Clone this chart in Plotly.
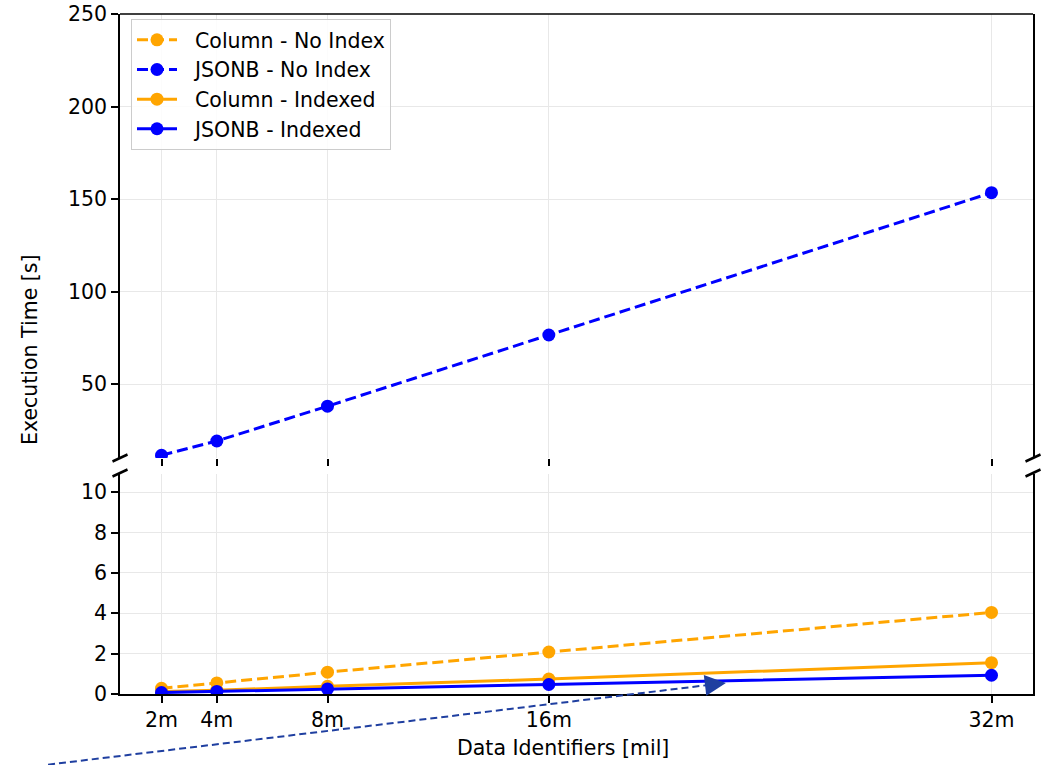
import plotly.graph_objects as go

# ---- data ----
x_vals = [2, 4, 8, 16, 32]
x_labels = ["2m", "4m", "8m", "16m", "32m"]
col_noidx = [0.28, 0.55, 1.08, 2.08, 4.04]
jsonb_noidx = [11.5, 19.2, 38.0, 76.5, 153.4]
col_idx = [0.12, 0.19, 0.38, 0.74, 1.55]
jsonb_idx = [0.07, 0.13, 0.25, 0.47, 0.93]
series_names = ["Column - No Index", "JSONB - No Index", "Column - Indexed", "JSONB - Indexed"]
top_ticks = [50, 100, 150, 200, 250]
bottom_ticks = [0, 2, 4, 6, 8, 10]
arrow_tail = (-2.1, -3.5)   # data coords of bottom panel
arrow_head = (22.4, 0.55)

# ---- style/layout ----
ORANGE = "#FFA500"
BLUE = "#0000FF"
ARROW_C = "#1f3fa0"
FONT = "DejaVu Sans"
FS = 20.5
W, H = 1045, 765
ML, MR, MT, MB = 120, 12, 14, 71
PW, PH = W - ML - MR, H - MT - MB
XR = [0.5, 33.5]
BOT_R = [0, 10.9]
TOP_R = [10, 250]
bot_dom = [0, (694 - 474) / PH]
top_dom = [(694 - 458) / PH, 1]

def py_to_paper(py):
    return (H - MB - py) / PH

def px_to_paper(px):
    return (px - ML) / PW

fig = go.Figure()
specs = [
    (col_noidx, ORANGE, "dash"),
    (jsonb_noidx, BLUE, "dash"),
    (col_idx, ORANGE, "solid"),
    (jsonb_idx, BLUE, "solid"),
]
for i, (vals, c, d) in enumerate(specs):
    for xa, ya, show in [("x", "y", False), ("x2", "y2", True)]:
        fig.add_trace(go.Scatter(
            x=x_vals, y=vals, mode="lines+markers", name="\u00a0\u00a0" + series_names[i],
            legendgroup=series_names[i], showlegend=show,
            line=dict(color=c, width=3, dash=("11px,5px" if d == "dash" else "solid")),
            marker=dict(color=c, size=13),
            xaxis=xa, yaxis=ya, cliponaxis=True,
        ))

grid = "#e8e8e8"
common_x = dict(range=XR, tickvals=x_vals, showgrid=True, gridcolor=grid, gridwidth=1,
                zeroline=False, ticks="outside", ticklen=7, tickwidth=1.5, tickcolor="black")
fig.update_layout(
    width=W, height=H, paper_bgcolor="white", plot_bgcolor="white",
    margin=dict(l=ML, r=MR, t=MT, b=MB, autoexpand=False),
    font=dict(family=FONT, size=FS, color="black"),
    xaxis=dict(**common_x, ticktext=x_labels, showticklabels=True, anchor="y",
               showline=True, linecolor="black", linewidth=1.5),
    xaxis2=dict(**common_x, showticklabels=False, anchor="y2", matches="x", showline=False),
    yaxis=dict(domain=bot_dom, range=BOT_R, tickvals=bottom_ticks, showgrid=True, gridcolor=grid,
               zeroline=False, ticks="outside", ticklen=7, tickwidth=1.5, tickcolor="black",
               showline=True, mirror=True, linecolor="black", linewidth=1.5, anchor="x"),
    yaxis2=dict(domain=top_dom, range=TOP_R, tickvals=top_ticks, showgrid=True, gridcolor=grid,
                zeroline=False, ticks="outside", ticklen=7, tickwidth=1.5, tickcolor="black",
                showline=True, mirror=True, linecolor="black", linewidth=1.5, anchor="x2"),
    legend=dict(x=px_to_paper(131), y=py_to_paper(19), xanchor="left", yanchor="top",
                bgcolor="rgba(255,255,255,0.85)", bordercolor="#cccccc", borderwidth=1,
                font=dict(size=FS), tracegroupgap=0, itemwidth=40),
    showlegend=True,
)

# top spine of top panel
fig.add_shape(type="line", xref="paper", yref="paper", x0=0, x1=1, y0=1, y1=1,
              line=dict(color="black", width=1.5))

# break marks
for px in (ML, ML + PW):
    for py in (458, 473):
        fig.add_shape(type="line", xref="paper", yref="paper",
                      x0=px_to_paper(px - 7.5), x1=px_to_paper(px + 7.5),
                      y0=py_to_paper(py + 3.5), y1=py_to_paper(py - 3.5),
                      line=dict(color="black", width=2.5))

# axis titles
fig.add_annotation(text="Execution Time [s]", xref="paper", yref="paper",
                   x=px_to_paper(30), y=py_to_paper(350), showarrow=False,
                   xanchor="center", yanchor="middle",
                   textangle=-90, font=dict(size=FS))
fig.add_annotation(text="Data Identifiers [mil]", xref="paper", yref="paper",
                   x=px_to_paper(562.5), y=py_to_paper(748), showarrow=False,
                   xanchor="center", yanchor="middle", font=dict(size=FS))

# dashed arrow (converted from bottom-panel data coords to paper coords)
def data_to_paper(x, y):
    return ((x - XR[0]) / (XR[1] - XR[0]),
            bot_dom[0] + (y - BOT_R[0]) / (BOT_R[1] - BOT_R[0]) * (bot_dom[1] - bot_dom[0]))

tx, ty = data_to_paper(*arrow_tail)
hx, hy = data_to_paper(*arrow_head)
dxp, dyp = (hx - tx) * PW, (hy - ty) * PH
L = (dxp ** 2 + dyp ** 2) ** 0.5
ux, uy = dxp / L, dyp / L
fig.add_shape(type="line", xref="paper", yref="paper",
              x0=tx, y0=ty, x1=hx - ux * 12 / PW, y1=hy - uy * 12 / PH,
              line=dict(color=ARROW_C, width=2, dash="7px,4px"))
fig.add_annotation(xref="paper", yref="paper", x=hx, y=hy, ax=-ux * 14, ay=uy * 14,
                   showarrow=True, arrowhead=2, arrowsize=2.1, arrowwidth=2,
                   arrowcolor=ARROW_C, text="", standoff=0)

fig.write_html("out.html", config={"displayModeBar": False},
               post_script="document.body.style.margin='0';document.body.style.overflow='hidden';")
